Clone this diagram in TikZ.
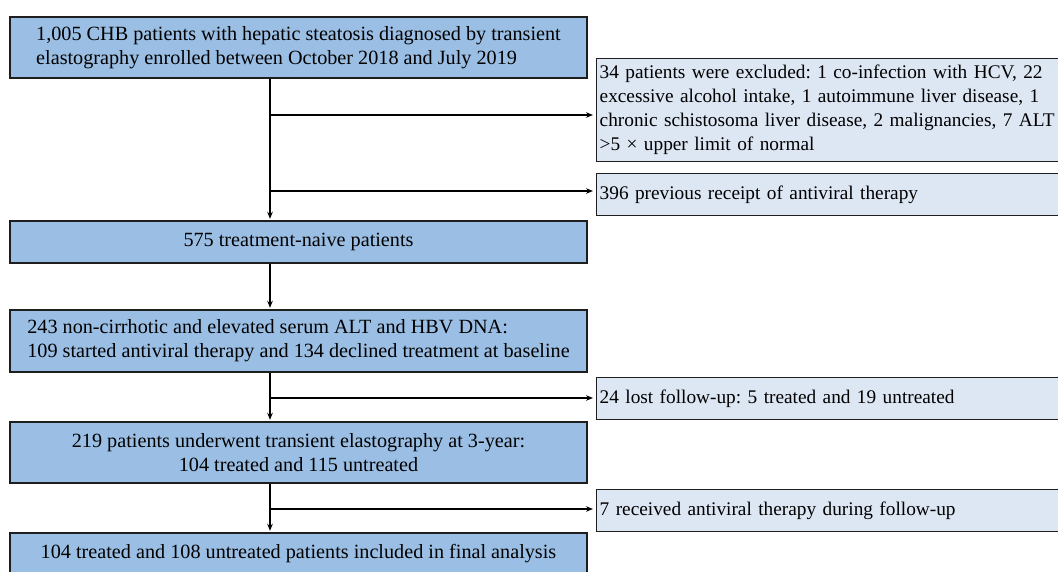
\documentclass[tikz,border=0pt]{standalone}
\usepackage{fontspec}
\setmainfont{Liberation Serif}
\usetikzlibrary{arrows.meta,calc}
\definecolor{mainblue}{RGB}{155,191,228}
\definecolor{sideblue}{RGB}{221,230,243}
\definecolor{edge}{RGB}{30,30,30}
\frenchspacing
\begin{document}
\begin{tikzpicture}[x=1pt,y=-1pt,
  mainbox/.style={font=\fontsize{20.2}{24}\selectfont,draw=edge,line width=1.4pt,fill=mainblue,inner sep=0pt,minimum width=577pt,align=center},
  sidebox/.style={font=\fontsize{19.3}{24}\selectfont,draw=edge,line width=1.4pt,fill=sideblue,inner xsep=3pt,inner ysep=0pt,align=left,anchor=north west,text width=520pt},
  conn/.style={draw=black,line width=1.2pt,-{Stealth[length=7pt,width=5.5pt]},shorten >=1.5pt}]
\useasboundingbox (0,0) rectangle (1058,572);

% main column
\node[mainbox,minimum height=61pt] (b1) at (298.5,47.5)
  {\begin{tabular}{@{}l@{}}1,005 CHB patients with hepatic steatosis diagnosed by transient\\elastography enrolled between October 2018 and July 2019\end{tabular}};
\node[mainbox,minimum height=42pt] (b2) at (298.5,242) {575 treatment-naive patients};
\node[mainbox,minimum height=62pt] (b3) at (298.5,341)
  {\begin{tabular}{@{}l@{}}243 non-cirrhotic and elevated serum ALT and HBV DNA:\\109 started antiviral therapy and 134 declined treatment at baseline\end{tabular}};
\node[mainbox,minimum height=61pt] (b4) at (298.5,452.5)
  {219 patients underwent transient elastography at 3-year:\\104 treated and 115 untreated};
\node[mainbox,minimum height=42pt] (b5) at (298.5,554) {104 treated and 108 untreated patients included in final analysis};

% side boxes (they run past the right edge of the picture)
\node[sidebox,minimum height=103pt] (s1) at (596,58)
  {34 patients were excluded: 1 co-infection with HCV, 22\\excessive alcohol intake, 1 autoimmune liver disease, 1\\chronic schistosoma liver disease, 2 malignancies, 7 ALT\\>5 × upper limit of normal};
\node[sidebox,minimum height=42pt] (s2) at (596,173) {396 previous receipt of antiviral therapy};
\node[sidebox,minimum height=42pt] (s3) at (596,377) {24 lost follow-up: 5 treated and 19 untreated};
\node[sidebox,minimum height=42pt] (s4) at (596,489) {7 received antiviral therapy during follow-up};

% junctions on the main line
\coordinate (j1) at (270,115);
\coordinate (j2) at (270,191);
\coordinate (j3) at (270,398);
\coordinate (j4) at (270,509);

% connectors
\draw[conn] (b1.south -| j1) -- (b2.north -| j1);
\draw[conn] (b2.south -| j1) -- (b3.north -| j1);
\draw[conn] (b3.south -| j1) -- (b4.north -| j1);
\draw[conn] (b4.south -| j1) -- (b5.north -| j1);
\draw[conn,shorten >=3pt] (j1) -- (j1 -| s1.west);
\draw[conn,shorten >=3pt] (j2) -- (j2 -| s2.west);
\draw[conn,shorten >=3pt] (j3) -- (j3 -| s3.west);
\draw[conn,shorten >=3pt] (j4) -- (j4 -| s4.west);
\end{tikzpicture}
\end{document}
